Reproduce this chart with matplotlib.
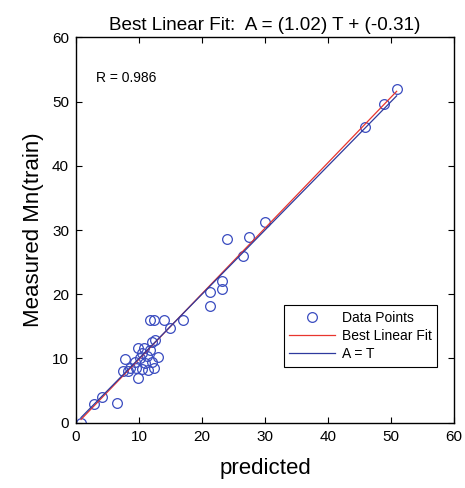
import numpy as np
import matplotlib.pyplot as plt

plt.rcParams["font.family"] = ["Liberation Sans", "DejaVu Sans"]

# predicted (T) vs measured (A) values
predicted = [0.8, 2.9, 4.2, 6.5,
             7.8, 8.6, 9.5, 9.8, 10.8, 12.0, 11.7, 10.2, 11.3, 11.0,
             12.0, 9.8, 10.4, 11.5, 12.4, 9.4, 13.0, 10.5, 7.5, 8.3,
             11.75, 12.4, 13.9, 14.9, 17.0, 12.5,
             21.2, 21.3, 23.2, 23.2, 23.9, 26.5, 27.5, 30.0,
             45.9, 48.9, 50.9]
measured = [0.0, 2.9, 4.05, 3.0,
            9.9, 8.5, 8.5, 11.7, 11.7, 12.6, 11.3, 10.1, 10.4, 9.25,
            9.5, 7.0, 8.4, 8.2, 8.5, 9.5, 10.3, 10.8, 8.05, 8.05,
            16.0, 16.0, 16.0, 14.7, 16.0, 12.9,
            18.1, 20.3, 22.0, 20.9, 28.6, 26.0, 28.9, 31.2,
            46.0, 49.6, 51.9]

slope = 1.02
intercept = -0.31
r_value = 0.986

fig = plt.figure(figsize=(4.65, 4.88), dpi=100)
ax = fig.add_axes([0.1634, 0.1338, 0.8129, 0.7895])

t = np.array([min(predicted), max(predicted)])
ax.plot(predicted, measured, "o", mfc="none", mec="#3a4cc0", mew=0.9, ms=7,
        label="Data Points")
ax.plot(t, slope * t + intercept, color="#e8352e", lw=0.9, label="Best Linear Fit")
ax.plot(t, t, color="#2e3a9e", lw=0.9, label="A = T")

ax.set_xlim(0, 60)
ax.set_ylim(0, 60)
ax.set_xticks(range(0, 61, 10))
ax.set_yticks(range(0, 61, 10))
ax.tick_params(direction="in", top=True, right=True, length=4, labelsize=11,
               width=0.8, pad=5)
for s in ax.spines.values():
    s.set_linewidth(1.0)

ax.set_title(f"Best Linear Fit:  A = ({slope:.2f}) T + ({intercept:.2f})",
             fontsize=13.6, pad=5)
ax.set_xlabel("predicted", fontsize=16, labelpad=10)
ax.set_ylabel("Measured Mn(train)", fontsize=16, labelpad=6)
ax.text(3.2, 53.7, f"R = {r_value:.3f}", fontsize=10, va="center")

leg = ax.legend(loc="lower right", bbox_to_anchor=(0.955, 0.145), fontsize=10,
                fancybox=False, edgecolor="black", framealpha=1,
                handlelength=3.3, handletextpad=0.45, borderpad=0.4,
                labelspacing=0.3, borderaxespad=0)
leg.get_frame().set_linewidth(0.8)

fig.savefig("out.png", dpi=100)
